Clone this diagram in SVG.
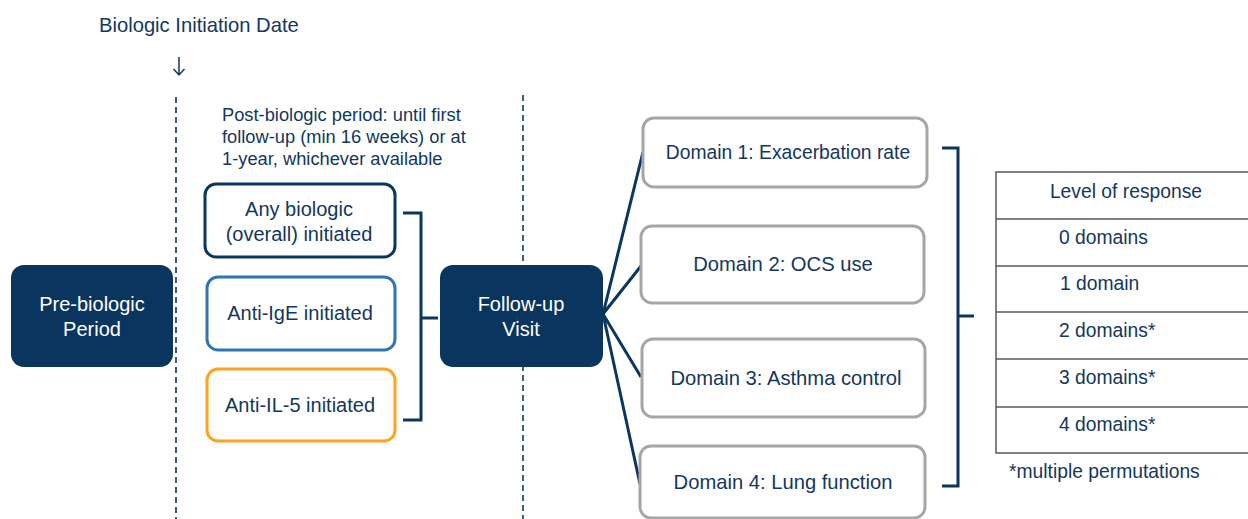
<svg xmlns="http://www.w3.org/2000/svg" width="1248" height="519" viewBox="0 0 1248 519">
<style>
text{font-family:"Liberation Sans",Arial,sans-serif;fill:#13375e}
.w{fill:#ffffff;font-size:20px}
.bt{font-size:20px}
.dt{font-size:20.2px}
.tt{font-size:19.3px}
.dash{stroke:#0b3660;stroke-width:1.6;stroke-dasharray:6 4;fill:none}
.conn{stroke:#0b3660;stroke-width:3;fill:none}
.dark{fill:#0a355f}
.dom{fill:#ffffff;stroke:#a6a6a6;stroke-width:3}
.tbl{stroke:#595959;stroke-width:1.5;fill:none}
</style>
<rect width="1248" height="519" fill="#ffffff"/>
<g id="header">
<text x="99" y="32" style="font-size:20.2px">Biologic Initiation Date</text>
<path d="M179,57 V75 M173.5,69 L179,75 L184.5,69" fill="none" stroke="#13375e" stroke-width="1.5"/>
<text x="222" y="121" style="font-size:18.3px">Post-biologic period: until first</text>
<text x="222" y="143" style="font-size:18.3px">follow-up (min 16 weeks) or at</text>
<text x="222" y="165" style="font-size:18.3px">1-year, whichever available</text>
</g>
<g id="dividers">
<line class="dash" x1="176" y1="97" x2="176" y2="519"/>
<line class="dash" x1="523" y1="95" x2="523" y2="519"/>
</g>
<g id="connectors">
<path class="conn" d="M403,213 H421 V420 H403 M421,318 H438"/>
<path class="conn" d="M603,314 L643,152 M603,314 L641,266 M603,314 L641,377 M603,314 L640,484"/>
<path class="conn" d="M942,148 H958 V486 H942 M958,316 H974"/>
</g>
<g id="pre-biologic">
<rect class="dark" x="11" y="265" width="162" height="102" rx="13"/>
<text class="w" x="92" y="311" text-anchor="middle">Pre-biologic</text>
<text class="w" x="92" y="336" text-anchor="middle">Period</text>
</g>
<g id="any-biologic">
<rect x="205" y="184" width="190" height="73" rx="11" fill="#fff" stroke="#0b3660" stroke-width="3"/>
<text class="bt" x="299" y="216" text-anchor="middle">Any biologic</text>
<text class="bt" x="299" y="241" text-anchor="middle">(overall) initiated</text>
</g>
<g id="anti-ige">
<rect x="207" y="277" width="188" height="73" rx="11" fill="#fff" stroke="#2e75b6" stroke-width="3"/>
<text class="bt" x="300" y="320" text-anchor="middle">Anti-IgE initiated</text>
</g>
<g id="anti-il5">
<rect x="207" y="369" width="188" height="72" rx="11" fill="#fff" stroke="#ffa21f" stroke-width="3"/>
<text class="bt" x="300" y="412" text-anchor="middle">Anti-IL-5 initiated</text>
</g>
<g id="follow-up">
<rect class="dark" x="440" y="265" width="163" height="102" rx="13"/>
<text class="w" x="521" y="311" text-anchor="middle">Follow-up</text>
<text class="w" x="521" y="336" text-anchor="middle">Visit</text>
</g>
<g id="domain1">
<rect class="dom" x="643" y="118" width="284" height="69" rx="11"/>
<text x="788" y="159" text-anchor="middle" style="font-size:19.3px">Domain 1: Exacerbation rate</text>
</g>
<g id="domain2">
<rect class="dom" x="641" y="226" width="283" height="77" rx="11"/>
<text class="dt" x="783" y="271" text-anchor="middle">Domain 2: OCS use</text>
</g>
<g id="domain3">
<rect class="dom" x="642" y="339" width="283" height="78" rx="11"/>
<text class="dt" x="786" y="385" text-anchor="middle">Domain 3: Asthma control</text>
</g>
<g id="domain4">
<rect class="dom" x="640" y="446" width="285" height="72" rx="11"/>
<text class="dt" x="783" y="489" text-anchor="middle">Domain 4: Lung function</text>
</g>
<g id="response-table">
<path class="tbl" d="M1250,172 H996 V453 H1250 M996,219 H1250 M996,266 H1250 M996,312 H1250 M996,359 H1250 M996,407 H1250"/>
<text class="tt" x="1126" y="198" text-anchor="middle">Level of response</text>
<text class="tt" x="1059" y="244">0 domains</text>
<text class="tt" x="1060" y="290">1 domain</text>
<text class="tt" x="1059" y="337">2 domains*</text>
<text class="tt" x="1059" y="384">3 domains*</text>
<text class="tt" x="1059" y="431">4 domains*</text>
<text class="tt" x="1009" y="478">*multiple permutations</text>
</g>
</svg>
